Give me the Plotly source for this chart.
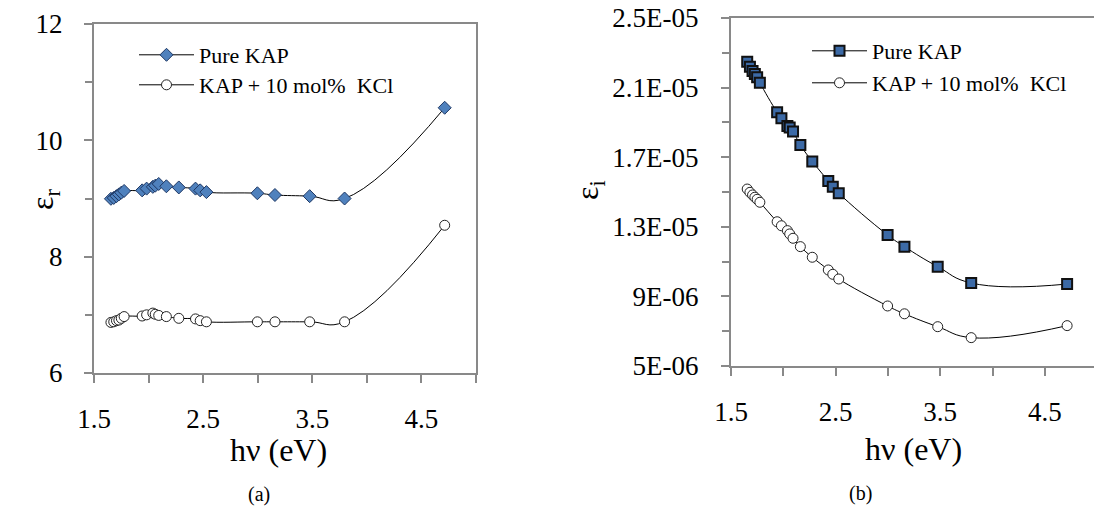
import plotly.graph_objects as go

# photon energy (eV)
hv = [1.655, 1.681, 1.706, 1.728, 1.750, 1.776, 1.941, 1.982, 2.039, 2.061, 2.093,
      2.163, 2.277, 2.430, 2.473, 2.530, 2.997, 3.158, 3.476, 3.796, 4.713]

# (a) real part of dielectric constant
er_pure = [8.995, 9.01, 9.04, 9.07, 9.10, 9.13, 9.14, 9.17, 9.20, 9.22, 9.25,
           9.21, 9.19, 9.17, 9.14, 9.11, 9.09, 9.06, 9.04, 9.00, 10.56]
er_kcl = [6.87, 6.88, 6.90, 6.91, 6.94, 6.97, 6.98, 7.00, 7.03, 7.01, 6.99,
          6.97, 6.94, 6.93, 6.90, 6.88, 6.88, 6.88, 6.88, 6.88, 8.54]

# (b) imaginary part of dielectric constant
ei_pure = [22.49e-6, 22.2e-6, 21.95e-6, 21.78e-6, 21.6e-6, 21.28e-6, 19.58e-6, 19.24e-6,
           18.79e-6, 18.70e-6, 18.47e-6, 17.70e-6, 16.76e-6, 15.63e-6, 15.30e-6, 14.93e-6,
           12.53e-6, 11.86e-6, 10.71e-6, 9.77e-6, 9.71e-6]
ei_kcl = [15.17e-6, 14.98e-6, 14.83e-6, 14.70e-6, 14.58e-6, 14.41e-6, 13.29e-6, 13.06e-6,
          12.78e-6, 12.59e-6, 12.34e-6, 11.86e-6, 11.25e-6, 10.52e-6, 10.27e-6, 10.0e-6,
          8.45e-6, 8.0e-6, 7.26e-6, 6.63e-6, 7.32e-6]

series_names = ["Pure KAP", "KAP + 10 mol%  KCl"]
x_tickvals = [1.5, 2.5, 3.5, 4.5]
x_ticktext = ["1.5", "2.5", "3.5", "4.5"]
ya_tickvals = [6, 8, 10, 12]
ya_ticktext = ["6", "8", "10", "12"]
yb_tickvals = [5e-6, 9e-6, 1.3e-5, 1.7e-5, 2.1e-5, 2.5e-5]
yb_ticktext = ["5E-06", "9E-06", "1.3E-05", "1.7E-05", "2.1E-05", "2.5E-05"]
yb_minor = [7e-6, 1.1e-5, 1.5e-5, 1.9e-5, 2.3e-5]
x_title = "hν (eV)"
ya_title = "ε<sub>r</sub>"
yb_title = "ε<sub>i</sub>"
panel_labels = ["(a)", "(b)"]

FONT = "Liberation Serif"
AX = "#898989"
W, H = 1094, 506

fig = go.Figure()
line = dict(color="black", width=1, shape="spline", smoothing=1.3)

fig.add_trace(go.Scatter(x=hv, y=er_pure, mode="lines+markers", name=series_names[0],
                         line=line,
                         marker=dict(symbol="diamond", size=10, color="#4f81bd",
                                     line=dict(color="#1f3864", width=1)),
                         xaxis="x", yaxis="y", legend="legend"))
fig.add_trace(go.Scatter(x=hv, y=er_kcl, mode="lines+markers", name=series_names[1],
                         line=line,
                         marker=dict(symbol="circle", size=10, color="white",
                                     line=dict(color="#222222", width=1)),
                         xaxis="x", yaxis="y", legend="legend3"))
fig.add_trace(go.Scatter(x=hv, y=ei_pure, mode="lines+markers", name=series_names[0],
                         line=line,
                         marker=dict(symbol="square", size=10, color="#3c6aa6",
                                     line=dict(color="#111111", width=2)),
                         xaxis="x2", yaxis="y2", legend="legend2"))
fig.add_trace(go.Scatter(x=hv, y=ei_kcl, mode="lines+markers", name=series_names[1],
                         line=line,
                         marker=dict(symbol="circle", size=10, color="white",
                                     line=dict(color="#222222", width=1)),
                         xaxis="x2", yaxis="y2", legend="legend4"))

tickfont = dict(family=FONT, size=27, color="black")

def xax(domain, rng, anchor):
    return dict(domain=domain, range=rng, anchor=anchor, automargin=False,
                showgrid=False, zeroline=False,
                showline=True, linecolor=AX, linewidth=2, mirror=True,
                ticks="outside", ticklen=8, tickwidth=2, tickcolor=AX,
                tickvals=x_tickvals, ticktext=x_ticktext, tickfont=tickfont,
                ticklabelstandoff=13,
                minor=dict(ticks="outside", ticklen=8, tickwidth=2, tickcolor=AX,
                           dtick=0.5, tick0=1.5, showgrid=False))

def ann(text, x, y, size, angle=0):
    return dict(text=text, x=x / W, y=1 - y / H, xref="paper", yref="paper",
                showarrow=False, font=dict(family=FONT, size=size, color="black"),
                xanchor="center", yanchor="middle", textangle=angle)

def leg(x, top):
    return dict(x=x / W, y=1 - top / H, xanchor="left", yanchor="top",
                bgcolor="rgba(0,0,0,0)", font=dict(family=FONT, size=22, color="black"),
                itemwidth=55)

fig.update_layout(
    width=W, height=H, margin=dict(l=0, r=0, t=0, b=0, pad=0, autoexpand=False),
    paper_bgcolor="white", plot_bgcolor="white",
    showlegend=True,
    xaxis=xax([94 / W, 476 / W], [1.5, 5.0], "y"),
    yaxis=dict(domain=[(H - 373) / H, (H - 24) / H], range=[6, 12], anchor="x",
               automargin=False,
               showgrid=False, zeroline=False, showline=True, linecolor=AX, linewidth=2,
               mirror=True, ticks="outside", ticklen=8, tickwidth=2, tickcolor=AX,
               tickvals=ya_tickvals, ticktext=ya_ticktext,
               tickfont=tickfont, ticklabelstandoff=16,
               minor=dict(ticks="outside", ticklen=7, tickwidth=2, tickcolor=AX,
                          dtick=1, tick0=6, showgrid=False)),
    xaxis2=xax([731 / W, 1.0], [1.5, 4.97], "y2"),
    yaxis2=dict(domain=[(H - 366) / H, (H - 18) / H], range=[5e-6, 2.5e-5], anchor="x2",
                automargin=False,
                showgrid=False, zeroline=False, showline=True, linecolor=AX, linewidth=2,
                mirror=False, ticks="outside", ticklen=8, tickwidth=2, tickcolor=AX,
                tickvals=yb_tickvals, ticktext=yb_ticktext,
                tickfont=tickfont, ticklabelstandoff=17,
                minor=dict(ticks="outside", ticklen=7, tickwidth=2, tickcolor=AX,
                           tickvals=yb_minor, showgrid=False)),
    legend=leg(134, 34),
    legend3=leg(134, 64),
    legend2=leg(807, 30),
    legend4=leg(807, 62),
    annotations=[
        ann(x_title, 278, 450, 32),
        ann(x_title, 913, 449, 32),
        ann(ya_title, 45, 200, 32, -90),
        ann(yb_title, 589, 190, 32, -90),
        ann(panel_labels[0], 259, 494, 20),
        ann(panel_labels[1], 860, 493, 20),
    ],
)

fig.write_html("out.html")
